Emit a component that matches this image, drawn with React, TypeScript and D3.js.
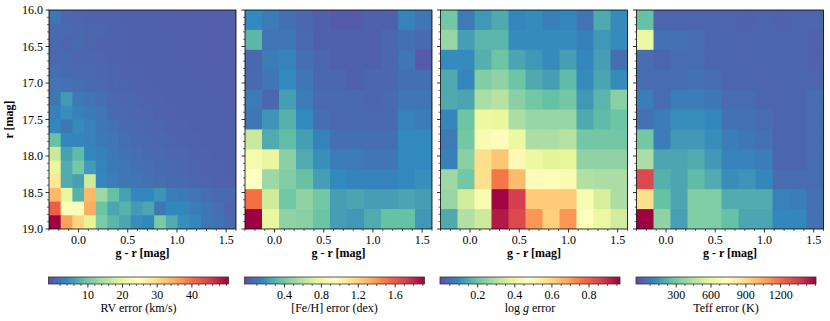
import React from "react";
import * as d3 from "d3";

// ---------- data ----------
// r [mag] rows from 16.0 (top) to 19.0 (bottom); g-r columns from -0.3 to 1.6
const rvErr: number[][] = [
  [2.3, 0.8, 0.6, 0.5, 0.5, 0.4, 0.3, 0.3, 0.2, 0.2, 0.1, 0.1, 0.1, 0.1, 0.1, 0.1],
  [1.2, 1.0, 0.8, 0.6, 0.6, 0.5, 0.4, 0.3, 0.3, 0.2, 0.2, 0.1, 0.1, 0.1, 0.1, 0.1],
  [1.2, 0.8, 1.2, 0.6, 0.5, 0.5, 0.4, 0.3, 0.3, 0.3, 0.2, 0.2, 0.1, 0.1, 0.1, 0.1],
  [1.0, 1.2, 0.8, 0.8, 0.6, 0.5, 0.4, 0.3, 0.3, 0.3, 0.2, 0.2, 0.2, 0.1, 0.1, 0.1],
  [1.5, 1.2, 1.0, 1.0, 0.8, 0.6, 0.5, 0.4, 0.3, 0.3, 0.3, 0.2, 0.2, 0.2, 0.1, 0.1],
  [2.1, 1.8, 1.5, 1.2, 1.0, 0.8, 0.6, 0.5, 0.4, 0.3, 0.3, 0.3, 0.2, 0.2, 0.1, 0.1],
  [2.3, 5.4, 2.6, 2.1, 1.5, 1.0, 0.8, 0.6, 0.5, 0.4, 0.3, 0.3, 0.3, 0.2, 0.2, 0.1],
  [3.1, 4.3, 3.1, 2.6, 2.1, 1.2, 1.0, 0.8, 0.6, 0.5, 0.4, 0.3, 0.3, 0.3, 0.2, 0.1],
  [3.8, 2.1, 4.1, 3.3, 2.3, 1.8, 1.2, 1.0, 0.8, 0.6, 0.5, 0.4, 0.3, 0.3, 0.2, 0.2],
  [9.0, 3.8, 3.6, 3.3, 2.6, 2.1, 1.5, 1.2, 1.0, 0.8, 0.6, 0.5, 0.4, 0.3, 0.3, 0.2],
  [16.8, 5.9, 8.5, 3.8, 3.1, 2.3, 1.8, 1.5, 1.2, 1.0, 0.8, 0.6, 0.5, 0.4, 0.3, 0.3],
  [20.4, 7.0, 10.1, 5.4, 3.6, 2.6, 2.1, 1.8, 1.5, 1.2, 1.0, 0.8, 0.6, 0.5, 0.4, 0.3],
  [28.7, 7.0, 5.9, 17.3, 3.8, 2.8, 2.3, 2.1, 1.8, 1.5, 1.2, 1.0, 0.8, 0.6, 0.5, 0.4],
  [33.9, 20.4, 7.5, 33.9, 13.2, 9.0, 5.9, 3.8, 3.8, 4.9, 2.8, 2.6, 2.1, 1.5, 1.2, 1.0],
  [41.7, 23.5, 23.5, 35.0, 9.5, 6.4, 7.5, 5.4, 6.4, 2.3, 3.8, 3.8, 2.8, 2.3, 1.5, 0.6],
  [50.5, 36.0, 30.8, 19.4, 10.6, 8.0, 6.4, 4.3, 3.8, 10.6, 7.0, 4.3, 3.8, 2.3, 1.8, 1.2],
];

const fehErr: number[][] = [
  [0.163, 0.12, 0.08, 0.049, 0.028, 0.007, 0.007, 0.028, 0.028, 0.142, 0.10],
  [0.319, 0.10, 0.10, 0.059, 0.028, 0.028, 0.028, 0.028, 0.049, 0.08, 0.059],
  [0.049, 0.12, 0.142, 0.08, 0.049, 0.028, 0.028, 0.028, 0.049, 0.10, 0.007],
  [0.059, 0.10, 0.163, 0.10, 0.049, 0.049, 0.028, 0.049, 0.049, 0.08, 0.08],
  [0.12, 0.049, 0.236, 0.12, 0.059, 0.059, 0.059, 0.049, 0.059, 0.10, 0.10],
  [0.10, 0.205, 0.298, 0.163, 0.08, 0.059, 0.059, 0.059, 0.059, 0.142, 0.12],
  [0.651, 0.277, 0.339, 0.236, 0.142, 0.08, 0.08, 0.08, 0.08, 0.163, 0.163],
  [0.858, 0.786, 0.454, 0.277, 0.184, 0.12, 0.12, 0.10, 0.10, 0.163, 0.163],
  [0.941, 0.516, 0.433, 0.36, 0.236, 0.163, 0.142, 0.142, 0.142, 0.163, 0.184],
  [1.523, 0.672, 0.391, 0.474, 0.391, 0.236, 0.256, 0.236, 0.236, 0.256, 0.236],
  [1.917, 0.786, 0.474, 0.454, 0.37, 0.236, 0.215, 0.277, 0.36, 0.36, 0.215],
];

const loggErr: number[][] = [
  [0.21, 0.07, 0.12, 0.15, 0.09, 0.10, 0.08, 0.09, 0.06, 0.15, 0.10],
  [0.26, 0.13, 0.17, 0.17, 0.10, 0.10, 0.10, 0.10, 0.08, 0.12, 0.10],
  [0.10, 0.10, 0.16, 0.20, 0.14, 0.12, 0.10, 0.13, 0.09, 0.13, 0.05],
  [0.15, 0.09, 0.23, 0.25, 0.20, 0.15, 0.13, 0.18, 0.10, 0.14, 0.10],
  [0.15, 0.14, 0.29, 0.31, 0.24, 0.21, 0.19, 0.21, 0.12, 0.17, 0.24],
  [0.09, 0.20, 0.41, 0.40, 0.29, 0.26, 0.26, 0.26, 0.15, 0.18, 0.20],
  [0.07, 0.21, 0.45, 0.49, 0.41, 0.29, 0.29, 0.31, 0.21, 0.21, 0.21],
  [0.08, 0.24, 0.58, 0.63, 0.50, 0.41, 0.38, 0.39, 0.25, 0.25, 0.25],
  [0.27, 0.21, 0.58, 0.76, 0.65, 0.49, 0.47, 0.45, 0.30, 0.29, 0.29],
  [0.26, 0.35, 0.45, 0.96, 0.87, 0.62, 0.62, 0.62, 0.45, 0.36, 0.29],
  [0.15, 0.30, 0.34, 0.93, 0.85, 0.71, 0.61, 0.71, 0.47, 0.41, 0.35],
];

const teffErr: number[][] = [
  [263, 12, 15, 15, 15, 12, 8, 12, 8, 12, 12],
  [620, 46, 46, 31, 15, 15, 12, 15, 15, 15, 5],
  [31, 15, 31, 31, 15, 15, 12, 15, 15, 15, 5],
  [31, 31, 31, 46, 31, 15, 15, 12, 15, 15, 12],
  [77, 31, 77, 77, 62, 31, 31, 15, 12, 15, 31],
  [46, 77, 124, 124, 108, 46, 46, 31, 15, 15, 31],
  [295, 77, 154, 154, 124, 77, 62, 46, 15, 15, 31],
  [419, 186, 186, 201, 154, 92, 92, 77, 15, 15, 31],
  [1318, 217, 186, 248, 201, 124, 140, 108, 31, 31, 31],
  [884, 263, 186, 325, 325, 201, 201, 201, 92, 77, 46],
  [1505, 357, 170, 325, 325, 263, 186, 186, 108, 108, 46],
];

const xTicks = [0.0, 0.5, 1.0, 1.5];
const yTicks = [16.0, 16.5, 17.0, 17.5, 18.0, 18.5, 19.0];

const rvRange = [-1.36, 50.56];
const fehRange = [-0.034, 1.918];
const loggRange = [-0.003, 0.967];
const teffRange = [-47, 1505];

const rvTicks = [10, 20, 30, 40];
const fehTicks = [0.4, 0.8, 1.2, 1.6];
const loggTicks = [0.2, 0.4, 0.6, 0.8];
const teffTicks = [300, 600, 900, 1200];

const spectralR = [
  "#5e4fa2", "#3288bd", "#66c2a5", "#abdda4", "#e6f598", "#ffffbf",
  "#fee08b", "#fdae61", "#f46d43", "#d53e4f", "#9e0142",
];

// ---------- layout ----------
const W = 830;
const H = 321;
const panelLefts = [49, 245, 440.5, 636.5];
const panelW = 187;
const top = 10;
const bottom = 229;
const cbTop = 277;
const cbH = 7;
const cbW = 180;
const FONT = "'Liberation Serif', 'Times New Roman', serif";
const FS = 12;

const cmapT = d3
  .scaleLinear<string>()
  .domain(d3.range(spectralR.length).map((i) => i / (spectralR.length - 1)))
  .range(spectralR)
  .interpolate(d3.interpolateRgb)
  .clamp(true);

type PanelDef = {
  data: number[][];
  range: number[];
  ticks: number[];
  minorStep: number;
  fmt: (v: number) => string;
  label: React.ReactNode;
};

const panels: PanelDef[] = [
  { data: rvErr, range: rvRange, ticks: rvTicks, minorStep: 2, fmt: (v) => d3.format("d")(v), label: "RV error (km/s)" },
  { data: fehErr, range: fehRange, ticks: fehTicks, minorStep: 0.1, fmt: (v) => d3.format(".1f")(v), label: "[Fe/H] error (dex)" },
  {
    data: loggErr, range: loggRange, ticks: loggTicks, minorStep: 0.05, fmt: (v) => d3.format(".1f")(v),
    label: (
      <>
        <tspan>log</tspan>
        <tspan fontStyle="italic"> g</tspan>
        <tspan> error</tspan>
      </>
    ),
  },
  { data: teffErr, range: teffRange, ticks: teffTicks, minorStep: 75, fmt: (v) => d3.format("d")(v), label: "Teff error (K)" },
];

function Panel({ def, idx }: { def: PanelDef; idx: number }) {
  const x0 = panelLefts[idx];
  const x = d3.scaleLinear().domain([-0.3, 1.6]).range([x0, x0 + panelW]);
  const y = d3.scaleLinear().domain([16, 19]).range([top, bottom]);
  const nRows = def.data.length;
  const nCols = def.data[0].length;
  const xEdges = d3.range(nCols + 1).map((i) => -0.3 + (1.9 * i) / nCols);
  const yEdges = d3.range(nRows + 1).map((i) => 16 + (3 * i) / nRows);
  const norm = d3.scaleLinear().domain(def.range).range([0, 1]).clamp(true);
  const color = (v: number) => cmapT(norm(v));

  const xMinor = d3.range(-3, 17).map((i) => i / 10).filter((v) => !xTicks.some((t) => Math.abs(t - v) < 1e-6));
  const yMinor = d3.range(160, 191).map((i) => i / 10).filter((v) => !yTicks.some((t) => Math.abs(t - v) < 1e-6));

  // colorbar
  const cb = d3.scaleLinear().domain(def.range).range([x0 - 0.5, x0 - 0.5 + cbW]);
  const cbMinor = d3
    .range(Math.ceil(def.range[0] / def.minorStep), Math.floor(def.range[1] / def.minorStep) + 1)
    .map((i) => i * def.minorStep)
    .filter((v) => v > 0 && !def.ticks.some((t) => Math.abs(t - v) < 1e-6));
  const gid = `grad${idx}`;
  const cid = `clip${idx}`;

  return (
    <g style={{ fontFamily: FONT }}>
      <defs>
        <clipPath id={cid}>
          <rect x={x0} y={top} width={panelW} height={bottom - top} />
        </clipPath>
        <linearGradient id={gid} x1="0" x2="1" y1="0" y2="0">
          {spectralR.map((c, i) => (
            <stop key={i} offset={i / (spectralR.length - 1)} stopColor={c} />
          ))}
        </linearGradient>
      </defs>
      <g clipPath={`url(#${cid})`}>
        {def.data.map((row, r) =>
          row.map((v, c) => (
            <rect
              key={`${r}-${c}`}
              x={x(xEdges[c])}
              y={y(yEdges[r])}
              width={x(xEdges[c + 1]) - x(xEdges[c]) + 1}
              height={y(yEdges[r + 1]) - y(yEdges[r]) + 1}
              fill={color(v)}
            />
          ))
        )}
      </g>
      <rect x={x0} y={top} width={panelW} height={bottom - top} fill="none" stroke="#000" strokeWidth={0.8} />
      {/* x ticks */}
      {xTicks.map((t) => (
        <g key={`xt${t}`}>
          <line x1={x(t)} x2={x(t)} y1={bottom} y2={bottom + 3.5} stroke="#000" strokeWidth={0.8} />
          <text x={x(t)} y={bottom + 15} fontSize={FS} textAnchor="middle">
            {d3.format(".1f")(t)}
          </text>
        </g>
      ))}
      {xMinor.map((t) => (
        <line key={`xm${t}`} x1={x(t)} x2={x(t)} y1={bottom} y2={bottom + 2} stroke="#000" strokeWidth={0.6} />
      ))}
      <text x={x0 + panelW / 2} y={bottom + 28} fontSize={FS} fontWeight="bold" textAnchor="middle">
        g - r [mag]
      </text>
      {/* y ticks */}
      {yTicks.map((t) => (
        <g key={`yt${t}`}>
          <line x1={x0 - 3.5} x2={x0} y1={y(t)} y2={y(t)} stroke="#000" strokeWidth={0.8} />
          {idx === 0 && (
            <text x={x0 - 6} y={y(t) + 4} fontSize={FS} textAnchor="end">
              {d3.format(".1f")(t)}
            </text>
          )}
        </g>
      ))}
      {yMinor.map((t) => (
        <line key={`ym${t}`} x1={x0 - 2} x2={x0} y1={y(t)} y2={y(t)} stroke="#000" strokeWidth={0.6} />
      ))}
      {idx === 0 && (
        <text
          transform={`translate(13,${(top + bottom) / 2}) rotate(-90)`}
          fontSize={FS}
          fontWeight="bold"
          textAnchor="middle"
        >
          r [mag]
        </text>
      )}
      {/* colorbar */}
      <rect x={cb.range()[0]} y={cbTop} width={cbW} height={cbH} fill={`url(#${gid})`} stroke="#333" strokeWidth={0.8} />
      {def.ticks.map((t) => (
        <g key={`ct${t}`}>
          <line x1={cb(t)} x2={cb(t)} y1={cbTop + cbH} y2={cbTop + cbH + 3.5} stroke="#000" strokeWidth={0.8} />
          <text x={cb(t)} y={cbTop + cbH + 14.5} fontSize={FS} textAnchor="middle">
            {def.fmt(t)}
          </text>
        </g>
      ))}
      {cbMinor.map((t) => (
        <line key={`cm${t}`} x1={cb(t)} x2={cb(t)} y1={cbTop + cbH} y2={cbTop + cbH + 2} stroke="#000" strokeWidth={0.6} />
      ))}
      <text x={cb.range()[0] + cbW / 2} y={cbTop + cbH + 27.5} fontSize={FS} textAnchor="middle">
        {def.label}
      </text>
    </g>
  );
}

export default function App() {
  return (
    <svg
      width={W}
      height={H}
      style={{ position: "absolute", left: 0, top: 0, background: "#fff" }}
    >
      <rect x={0} y={0} width={W} height={H} fill="#fff" />
      {panels.map((p, i) => (
        <Panel key={i} def={p} idx={i} />
      ))}
    </svg>
  );
}
